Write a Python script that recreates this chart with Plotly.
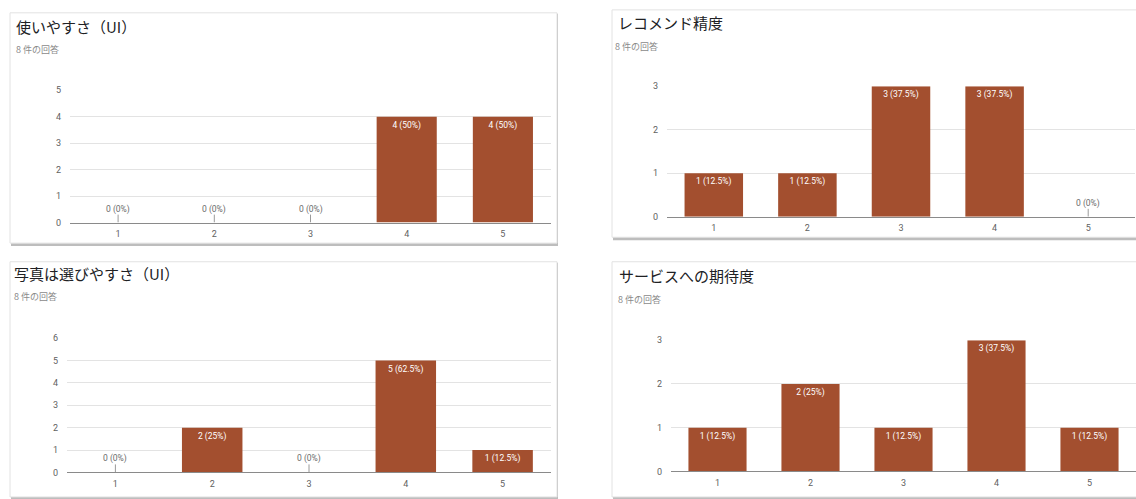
import plotly.graph_objects as go

W, H = 1136, 499
TOTAL = 8
categories = [1, 2, 3, 4, 5]

titles = ["使いやすさ（UI）", "レコメンド精度", "写真は選びやすさ（UI）", "サービスへの期待度"]
subtitle = "8 件の回答"

counts_ui = [0, 0, 0, 4, 4]
counts_reco = [1, 1, 3, 3, 0]
counts_photo = [0, 2, 0, 5, 1]
counts_expect = [1, 2, 1, 3, 1]

y_max = [5, 3, 6, 3]

series = [counts_ui, counts_reco, counts_photo, counts_expect]

# pixel layout of each card: card rect, plot rect, title pos
cards = [
    dict(card=(10, 8, 557, 243), plot=(70, 87, 551, 222), title=(14, 22), sub=(14, 45)),
    dict(card=(612, 5, 1142, 237), plot=(667, 83, 1135, 216), title=(616, 18), sub=(613, 42)),
    dict(card=(10, 262, 557, 502), plot=(67, 340, 551, 477), title=(12, 274), sub=(12, 297)),
    dict(card=(612, 262, 1142, 502), plot=(671, 342, 1136, 476), title=(617, 276), sub=(616, 301)),
]

BAR = "#A34F2F"
GRID = "#e3e3e3"
TXT = "#5f5f5f"
LAT = "Roboto, 'Liberation Sans', Arial, sans-serif"
CJK = "'Noto Sans CJK JP', 'Noto Sans', sans-serif"

def px(x):
    return x / W

def py(y):
    return 1 - y / H

def pct(v):
    return f"{v} ({v / TOTAL * 100:g}%)"

fig = go.Figure()
shapes = []
annotations = []

for i, (vals, c) in enumerate(zip(series, cards)):
    k = "" if i == 0 else str(i + 1)
    xa, ya = "x" + k, "y" + k
    x0, y0, x1, y1 = c["card"]
    # shadow
    shapes.append(dict(type="rect", xref="paper", yref="paper", layer="below",
                       x0=px(x0 + 1), x1=px(x1 + 1), y0=py(y0 + 1), y1=py(y1 + 3),
                       fillcolor="#bdbdbd", line=dict(width=0)))
    shapes.append(dict(type="rect", xref="paper", yref="paper", layer="below",
                       x0=px(x0), x1=px(x1), y0=py(y0), y1=py(y1),
                       fillcolor="white", line=dict(color="#e2e2e2", width=1)))

    texts = [pct(v) if v > 0 else "" for v in vals]
    fig.add_trace(go.Bar(
        x=categories, y=vals, xaxis=xa, yaxis=ya,
        marker=dict(color=BAR, line=dict(width=0)),
        text=texts, textposition="inside", insidetextanchor="end",
        textangle=0, textfont=dict(color="white", size=8.5, family=LAT),
        error_y=dict(type="data", symmetric=False,
                     array=[y_max[i] * 0.06 if v == 0 else 0 for v in vals],
                     arrayminus=[0] * len(vals), width=0, thickness=1, color="#9a9a9a"),
        showlegend=False, hoverinfo="skip",
    ))
    for xc, v in zip(categories, vals):
        if v == 0:
            annotations.append(dict(x=xc, y=0, xref=xa, yref=ya, text=pct(v),
                                    showarrow=False, yanchor="bottom", yshift=6,
                                    font=dict(size=8.5, color="#6a6a6a", family=LAT)))

    px0, py0, px1, py1 = c["plot"]
    fig.update_layout(**{
        ("xaxis" + k): dict(domain=[px(px0), px(px1)], anchor=ya, range=[0.5, 5.5],
                            tickmode="array", tickvals=categories,
                            ticktext=[str(v) for v in categories],
                            showgrid=False, zeroline=False, showline=True,
                            linecolor="#8a8a8a", linewidth=1, ticks="",
                            ticklabelstandoff=3,
                            tickfont=dict(size=9, color=TXT, family=LAT), fixedrange=True),
        ("yaxis" + k): dict(domain=[py(py1), py(py0)], anchor=xa, range=[0, y_max[i]],
                            dtick=1, showgrid=True, gridcolor=GRID, gridwidth=1,
                            zeroline=False, showline=False, ticks="",
                            ticklabelstandoff=8,
                            tickfont=dict(size=9, color=TXT, family=LAT), fixedrange=True),
    })

    tx, ty = c["title"]
    annotations.append(dict(x=px(tx), y=py(ty), xref="paper", yref="paper",
                            text=titles[i], showarrow=False, xanchor="left", yanchor="middle",
                            font=dict(size=15, color="#202124", family=CJK)))
    sx, sy = c["sub"]
    annotations.append(dict(x=px(sx), y=py(sy), xref="paper", yref="paper",
                            text=subtitle, showarrow=False, xanchor="left", yanchor="middle",
                            font=dict(size=9, color="#8a8a8a", family=CJK)))

fig.update_layout(
    width=W, height=H, margin=dict(l=0, r=0, t=0, b=0),
    paper_bgcolor="white", plot_bgcolor="rgba(0,0,0,0)",
    bargap=0.375, shapes=shapes, annotations=annotations,
    font=dict(family=LAT),
)

fig.write_html("out.html")
